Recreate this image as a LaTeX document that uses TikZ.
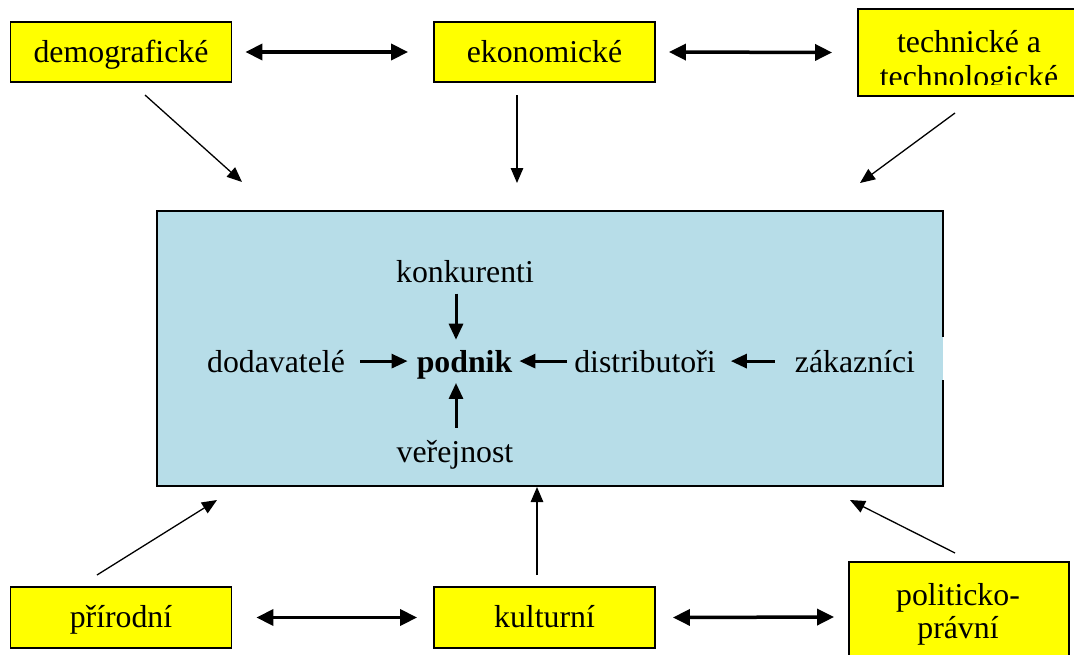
\documentclass[tikz,border=0pt]{standalone}
\usepackage{fontspec}
\setmainfont{Liberation Serif}
\usetikzlibrary{arrows.meta}
\definecolor{boxyellow}{HTML}{FFFF00}
\definecolor{panelblue}{HTML}{B7DDE8}
\begin{document}
\begin{tikzpicture}[x=1pt,y=-1pt,
  lbl/.style={font=\fontsize{31.8}{35}\selectfont, inner sep=0pt},
  ybox/.style={draw=black, line width=1.8pt, fill=boxyellow, inner sep=0pt,
    font=\fontsize{31.8}{35}\selectfont, text height=23pt, text depth=3pt},
  dbl/.style={line width=3.5pt, {Triangle[length=17pt,width=16pt]}-{Triangle[length=17pt,width=16pt]}},
  slimarrow/.style={line width=1.3pt, -{Triangle[length=15pt,width=12.5pt]}},
  inarr/.style={line width=3pt, -{Triangle[length=16pt,width=14pt]}},
]
\useasboundingbox (0,0) rectangle (1074,654);

% top row
\node[ybox, minimum width=221pt, minimum height=60pt] (demo) at (121,52) {demografické};
\node[ybox, minimum width=221pt, minimum height=60pt] (ekon) at (544.5,52) {ekonomické};
\node[ybox, minimum width=280pt, minimum height=87pt] (tech) at (998,52.5) {};
\begin{scope}
  \clip ([xshift=1pt]tech.north west) rectangle (1074,84);
  \node[lbl, anchor=base] (techa) at (969,52) {technické a};
  \node[lbl, anchor=base] (techb) at (969,87) {technologické};
\end{scope}

\draw[dbl] ([xshift=13pt]demo.east) -- ([xshift=-25pt]ekon.west);
\draw[dbl] ([xshift=13pt]ekon.east) -- ([xshift=-25pt]tech.west);

% bottom row
\node[ybox, minimum width=221pt, minimum height=61pt] (prir) at (121,617.5) {přírodní};
\node[ybox, minimum width=221pt, minimum height=61pt] (kult) at (544.5,617.5) {kulturní};
\node[ybox, minimum width=220pt, minimum height=110pt] (polit) at (959,617) {};
\node[lbl, anchor=base] (polita) at (958,605) {politicko-};
\node[lbl, anchor=base] (politb) at (958,638) {právní};

\draw[dbl] ([xshift=24pt]prir.east) -- ([xshift=-16pt]kult.west);
\draw[dbl] ([xshift=17pt]kult.east) -- ([xshift=-14pt]polit.west);

% central panel
\node[fill=panelblue, minimum width=786pt, minimum height=275pt, inner sep=0pt] (panel) at (550,348.5) {};
\draw[line width=2.5pt, line cap=rect]
  (panel.east |- 0,336) -- (panel.north east) -- (panel.north west)
  -- (panel.south west) -- (panel.south east) -- (panel.east |- 0,381);

% external influence arrows
\coordinate (a1s) at (145,95);  \coordinate (a1e) at (242,182);
\coordinate (a2s) at (517,95);  \coordinate (a2e) at (517,183);
\coordinate (a3s) at (955,113); \coordinate (a3e) at (860,183);
\coordinate (b1s) at (97,575);  \coordinate (b1e) at (217,500);
\coordinate (b2s) at (537,575); \coordinate (b2e) at (537,487);
\coordinate (b3s) at (955,553); \coordinate (b3e) at (850,500);
\draw[slimarrow] (a1s) -- (a1e);
\draw[slimarrow] (a2s) -- (a2e);
\draw[slimarrow] (a3s) -- (a3e);
\draw[slimarrow] (b1s) -- (b1e);
\draw[slimarrow] (b2s) -- (b2e);
\draw[slimarrow] (b3s) -- (b3e);

% inner labels
\node[lbl, anchor=base] (konk) at (465,282) {konkurenti};
\node[lbl, anchor=base] (podnik) at (464.5,372) {\bfseries podnik};
\node[lbl, anchor=base] (dodav) at (276,372) {dodavatelé};
\node[lbl, anchor=base] (distr) at (645,372) {distributoři};
\node[lbl, anchor=base] (zakaz) at (855,372) {zákazníci};
\node[lbl, anchor=base] (verej) at (455,462) {veřejnost};

\draw[inarr] ([xshift=-9pt,yshift=-11pt]konk.south) -- ([xshift=-8.5pt,yshift=10pt]podnik.north);
\draw[inarr] ([xshift=1pt,yshift=12pt]verej.north) -- ([xshift=-8.5pt,yshift=-4pt]podnik.south);
\draw[inarr] ([xshift=15pt]dodav.east) -- ([xshift=-9pt]podnik.west |- dodav.east);
\draw[inarr] ([xshift=-7pt]distr.west) -- ([xshift=7pt]podnik.east |- distr.west);
\draw[inarr] ([xshift=-20pt]zakaz.west) -- ([xshift=15pt]distr.east |- zakaz.west);
\end{tikzpicture}
\end{document}
